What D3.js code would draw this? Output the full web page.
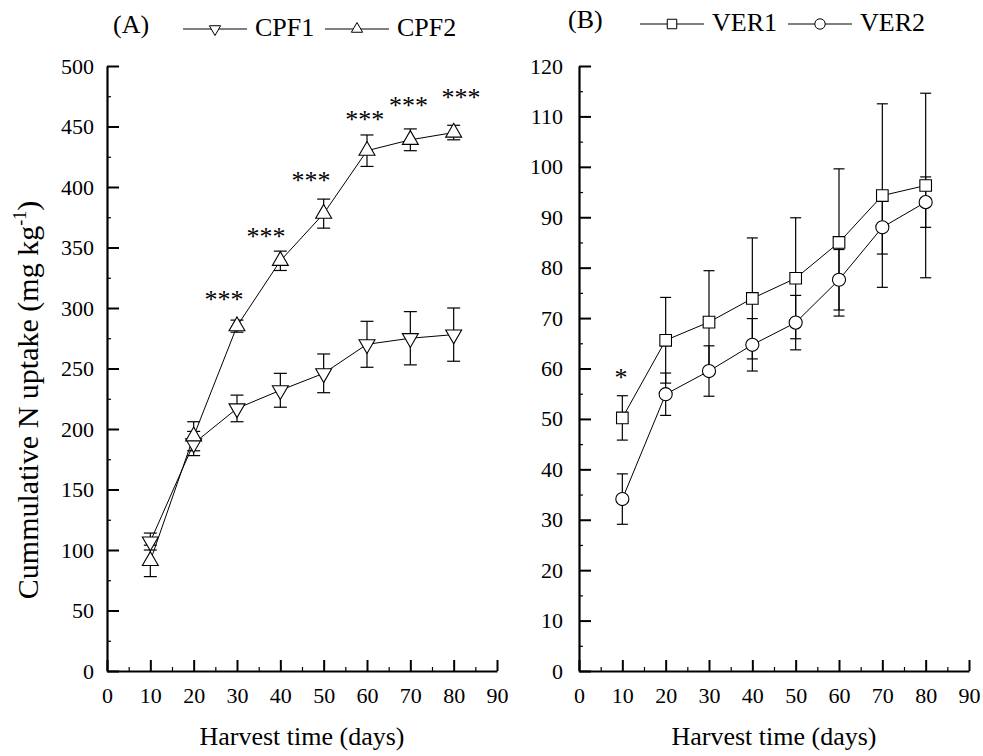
<!DOCTYPE html>
<html lang="en">
<head>
<meta charset="UTF-8">
<title>Cumulative N uptake</title>
<script src="https://cdn.jsdelivr.net/npm/d3@7/dist/d3.min.js"></script>
<style>
  body { margin: 0; background: #fff; }
  svg, text { font-family: "Liberation Serif", "Times New Roman", serif; fill: #000; }
</style>
</head>
<body>
<div id="chart"></div>
<script>
// harvest days
const days = [10, 20, 30, 40, 50, 60, 70, 80];

// panel A
const cpf1 = [107, 188, 217, 232, 246, 270, 275, 278];
const cpf1Err = [7, 10, 11, 14, 16, 19, 22, 22];
const cpf2 = [91, 194, 285, 339, 378, 430, 439, 445];
const cpf2Err = [13, 12, 5, 8, 12, 13, 9, 6];
const ticksA = [0, 50, 100, 150, 200, 250, 300, 350, 400, 450, 500];
// significance marks (anchor in days / value)
const sigA = [
  { day: 27, value: 310, label: "***" },
  { day: 36.7, value: 362, label: "***" },
  { day: 47.1, value: 408, label: "***" },
  { day: 59.5, value: 459, label: "***" },
  { day: 69.6, value: 470, label: "***" },
  { day: 81.7, value: 477, label: "***" }
];

// panel B
const ver1 = [50.2, 65.6, 69.2, 73.9, 77.9, 85.0, 94.3, 96.3];
const ver1Err = [4.4, 8.5, 10.2, 12, 12, 14.6, 18.2, 18.3];
const ver2 = [34.1, 54.9, 59.5, 64.7, 69.1, 77.6, 88.0, 93.0];
const ver2Err = [5, 4.2, 5, 5.2, 5.4, 6, 5.3, 5];
const ticksB = [0, 10, 20, 30, 40, 50, 60, 70, 80, 90, 100, 110, 120];
const sigB = [{ day: 9.7, value: 58.9, label: "*" }];

const xTicks = [0, 10, 20, 30, 40, 50, 60, 70, 80, 90];

const W = 983, H = 756;
const svg = d3.select("#chart").append("svg")
  .attr("width", W).attr("height", H);

const plotTop = 66, plotBottom = 671;

function styleAxis(a) {
  a.attr("font-family", null).attr("font-size", null);
  a.selectAll("line").attr("stroke-width", 2);
  a.select(".domain").attr("stroke-width", 2.2);
  a.selectAll("text").attr("font-size", 22);
}

function drawPanel(p) {
  const x = d3.scaleLinear().domain([0, 90]).range([p.left, p.left + 390]);
  const y = d3.scaleLinear().domain([0, p.ymax]).range([plotBottom, plotTop]);
  const g = svg.append("g");

  // minor ticks
  g.append("g").attr("transform", `translate(0,${plotBottom})`)
    .call(d3.axisBottom(x).tickValues(d3.range(5, 90, 10)).tickSize(-4).tickFormat(""))
    .call(a => a.select(".domain").remove())
    .call(a => a.selectAll("line").attr("stroke-width", 1.2));
  g.append("g").attr("transform", `translate(${p.left},0)`)
    .call(d3.axisLeft(y).tickValues(d3.range(p.minorStep, p.ymax, p.minorStep * 2)).tickSize(-4).tickFormat(""))
    .call(a => a.select(".domain").remove())
    .call(a => a.selectAll("line").attr("stroke-width", 1.2));

  // major axes
  g.append("g").attr("transform", `translate(0,${plotBottom})`)
    .call(d3.axisBottom(x).tickValues(xTicks).tickSizeInner(-11).tickSizeOuter(0).tickPadding(16))
    .call(styleAxis);
  g.append("g").attr("transform", `translate(${p.left},0)`)
    .call(d3.axisLeft(y).tickValues(p.ticks).tickSizeInner(-12).tickSizeOuter(0).tickPadding(p.pad))
    .call(styleAxis);

  const line = d3.line().x((d, i) => x(days[i])).y(d => y(d));

  p.series.forEach(s => {
    g.append("path").datum(s.values)
      .attr("d", line).attr("fill", "none").attr("stroke", "#000").attr("stroke-width", 1);
  });

  p.series.forEach(s => {
    const eb = g.append("g").attr("stroke", "#000").attr("stroke-width", 1.2);
    s.values.forEach((v, i) => {
      const cx = x(days[i]);
      eb.append("line").attr("x1", cx).attr("x2", cx)
        .attr("y1", y(v - s.err[i])).attr("y2", y(v + s.err[i]));
      [v - s.err[i], v + s.err[i]].forEach(e => {
        eb.append("line").attr("x1", cx - p.cap).attr("x2", cx + p.cap)
          .attr("y1", y(e)).attr("y2", y(e));
      });
    });
  });

  p.series.forEach(s => {
    g.selectAll(null).data(s.values).join("path")
      .attr("d", d3.symbol(s.shape, s.size))
      .attr("transform", (d, i) => `translate(${x(days[i])},${y(d)})` + (s.flip ? " rotate(180)" : ""))
      .attr("fill", "#fff").attr("stroke", "#000").attr("stroke-width", 1.1);
  });

  // significance stars
  g.selectAll(null).data(p.sig).join("text")
    .attr("x", d => x(d.day)).attr("y", d => y(d.value) + 12)
    .attr("text-anchor", "middle").attr("font-size", 26)
    .text(d => d.label);

  // x title
  g.append("text")
    .attr("x", p.left + 195).attr("y", 745)
    .attr("text-anchor", "middle").attr("font-size", 26)
    .text("Harvest time (days)");

  // legend
  g.append("text").attr("x", p.tagX).attr("y", p.legY - 3)
    .attr("font-size", 26).text(p.tag);
  p.series.forEach((s, k) => {
    const lx = p.legX[k];
    const ly = p.legY - 7;
    g.append("line").attr("x1", lx).attr("x2", lx + 64)
      .attr("y1", ly).attr("y2", ly).attr("stroke", "#000").attr("stroke-width", 1);
    g.append("path").attr("d", d3.symbol(s.shape, s.legSize))
      .attr("transform", `translate(${lx + 32},${ly})` + (s.flip ? " rotate(180)" : ""))
      .attr("fill", "#fff").attr("stroke", "#000").attr("stroke-width", 1);
    g.append("text").attr("x", lx + 72).attr("y", p.legY)
      .attr("font-size", 26).text(s.name);
  });
}

drawPanel({
  left: 107, ymax: 500, ticks: ticksA, minorStep: 25, pad: 13, cap: 6.5,
  sig: sigA, tag: "(A)", tagX: 113, legY: 36, legX: [183, 325],
  series: [
    { name: "CPF1", values: cpf1, err: cpf1Err, shape: d3.symbolTriangle, flip: true, size: 110, legSize: 55 },
    { name: "CPF2", values: cpf2, err: cpf2Err, shape: d3.symbolTriangle, flip: false, size: 110, legSize: 55 }
  ]
});

drawPanel({
  left: 579, ymax: 120, ticks: ticksB, minorStep: 5, pad: 16, cap: 5.5,
  sig: sigB, tag: "(B)", tagX: 568, legY: 31, legX: [640, 788],
  series: [
    { name: "VER1", values: ver1, err: ver1Err, shape: d3.symbolSquare, flip: false, size: 135, legSize: 90 },
    { name: "VER2", values: ver2, err: ver2Err, shape: d3.symbolCircle, flip: false, size: 135, legSize: 85 }
  ]
});

// y title
const yt = svg.append("text")
  .attr("transform", "translate(38,400) rotate(-90)")
  .attr("text-anchor", "middle").attr("font-size", 30);
yt.append("tspan").text("Cummulative N uptake (mg kg");
yt.append("tspan").attr("font-size", 18).attr("dy", -12).text("-1");
yt.append("tspan").attr("dy", 12).text(")");
</script>
</body>
</html>
